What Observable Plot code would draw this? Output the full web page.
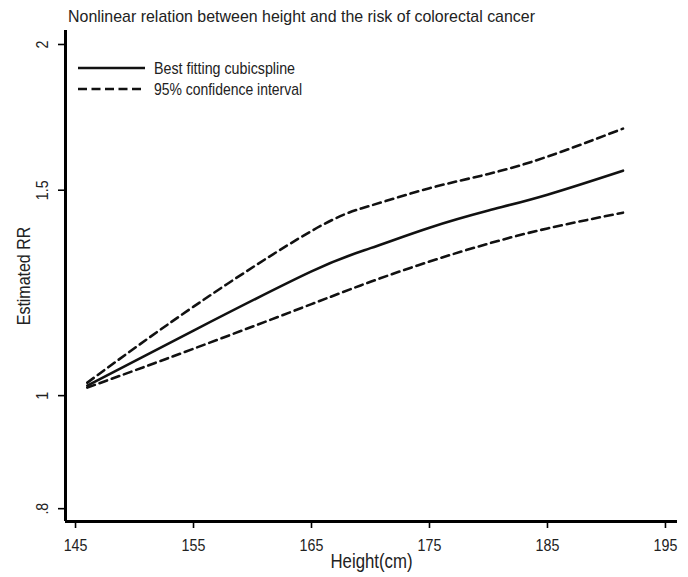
<!DOCTYPE html>
<html>
<head>
<meta charset="utf-8">
<script src="https://cdn.jsdelivr.net/npm/d3@7"></script>
<script src="https://cdn.jsdelivr.net/npm/@observablehq/plot@0.6"></script>
<style>
  html, body { margin: 0; padding: 0; background: #fff; }
  #chart { width: 688px; height: 577px; }
</style>
</head>
<body>
<div id="chart"></div>
<script>
// ---- data ----
const heights = [146, 155, 165, 170, 175, 180, 185, 191.4];
const rrFit   = [1.020, 1.137, 1.278, 1.338, 1.393, 1.441, 1.487, 1.559];
const rrUpper = [1.026, 1.192, 1.384, 1.455, 1.506, 1.549, 1.603, 1.694];
const rrLower = [1.016, 1.097, 1.198, 1.252, 1.303, 1.350, 1.391, 1.435];
const xTicks = [145, 155, 165, 175, 185, 195];
const yTicks = [0.8, 1, 1.5, 2];
const yTickLabels = [".8", "1", "1.5", "2"];
const titleText = "Nonlinear relation between height and the risk of colorectal cancer";
const legendLabels = ["Best fitting cubicspline", "95% confidence interval"];

const fit = heights.map((h, i) => ({h, rr: rrFit[i]}));
const upper = heights.map((h, i) => ({h, rr: rrUpper[i]}));
const lower = heights.map((h, i) => ({h, rr: rrLower[i]}));

const font = '"Liberation Sans", Arial, sans-serif';
const xDomain = [144.15, 196.02];
const yDomain = [0.78, 2.056];

const plot = Plot.plot({
  width: 688,
  height: 577,
  marginTop: 30,
  marginBottom: 56,
  marginLeft: 65,
  marginRight: 11,
  style: {fontFamily: font, background: "#fff", color: "#000"},
  x: {domain: xDomain, label: null},
  y: {type: "log", domain: yDomain, label: null},
  marks: [
    Plot.axisX({ticks: xTicks, tickSize: 7, tickPadding: 10, tickFormat: d => String(d), fontSize: 17, stroke: "#000", strokeWidth: 1.6, fill: "#222", label: null}),
    Plot.axisY({ticks: yTicks, tickSize: 7, tickFormat: () => "", stroke: "#000", strokeWidth: 1.6, label: null}),
    Plot.text(yTicks, {y: d => d, frameAnchor: "left", dx: -23, rotate: -90, text: (d, i) => yTickLabels[i], fontSize: 17, fill: "#222", textAnchor: "middle", lineAnchor: "middle"}),
    Plot.text(["Estimated RR"], {frameAnchor: "left", dx: -42, rotate: -90, fontSize: 19, fill: "#222", textAnchor: "middle", lineAnchor: "middle"}),
    Plot.text(["Height(cm)"], {frameAnchor: "bottom", dy: 32, fontSize: 20, fill: "#222", textAnchor: "middle", lineAnchor: "top"}),
    Plot.ruleX([xDomain[0]], {stroke: "#000", strokeWidth: 3}),
    Plot.ruleY([yDomain[0]], {stroke: "#000", strokeWidth: 3}),
    Plot.line(upper, {x: "h", y: "rr", stroke: "#111", strokeWidth: 2.6, strokeDasharray: "8,5", curve: "natural"}),
    Plot.line(lower, {x: "h", y: "rr", stroke: "#111", strokeWidth: 2.6, strokeDasharray: "8,5", curve: "natural"}),
    Plot.line(fit, {x: "h", y: "rr", stroke: "#111", strokeWidth: 2.6, curve: "natural"})
  ]
});

const svg = d3.select(plot);
// title
svg.append("text")
  .attr("x", 68).attr("y", 22).attr("text-anchor", "start")
  .attr("font-family", font).attr("font-size", 17).attr("fill", "#222")
  .attr("textLength", 467).attr("lengthAdjust", "spacingAndGlyphs")
  .text(titleText);
// legend
const lg = svg.append("g");
lg.append("line").attr("x1", 78).attr("x2", 145).attr("y1", 68).attr("y2", 68)
  .attr("stroke", "#111").attr("stroke-width", 2.6);
lg.append("line").attr("x1", 78).attr("x2", 145).attr("y1", 89).attr("y2", 89)
  .attr("stroke", "#111").attr("stroke-width", 2.6).attr("stroke-dasharray", "9,4.5");
lg.append("text").attr("x", 154).attr("y", 68).attr("dy", "0.35em").attr("text-anchor", "start")
  .attr("font-family", font).attr("font-size", 17).attr("fill", "#222")
  .attr("textLength", 141).attr("lengthAdjust", "spacingAndGlyphs")
  .text(legendLabels[0]);
lg.append("text").attr("x", 154).attr("y", 89).attr("dy", "0.35em").attr("text-anchor", "start")
  .attr("font-family", font).attr("font-size", 17).attr("fill", "#222")
  .attr("textLength", 148).attr("lengthAdjust", "spacingAndGlyphs")
  .text(legendLabels[1]);

document.getElementById("chart").appendChild(plot);

// condense the remaining texts so they look like the narrow face of the reference
svg.selectAll("text").each(function() {
  if (this.hasAttribute("textLength")) return;
  const len = this.getComputedTextLength();
  if (len > 0) {
    this.setAttribute("textLength", (len * 0.84).toFixed(1));
    this.setAttribute("lengthAdjust", "spacingAndGlyphs");
  }
});
</script>
</body>
</html>
